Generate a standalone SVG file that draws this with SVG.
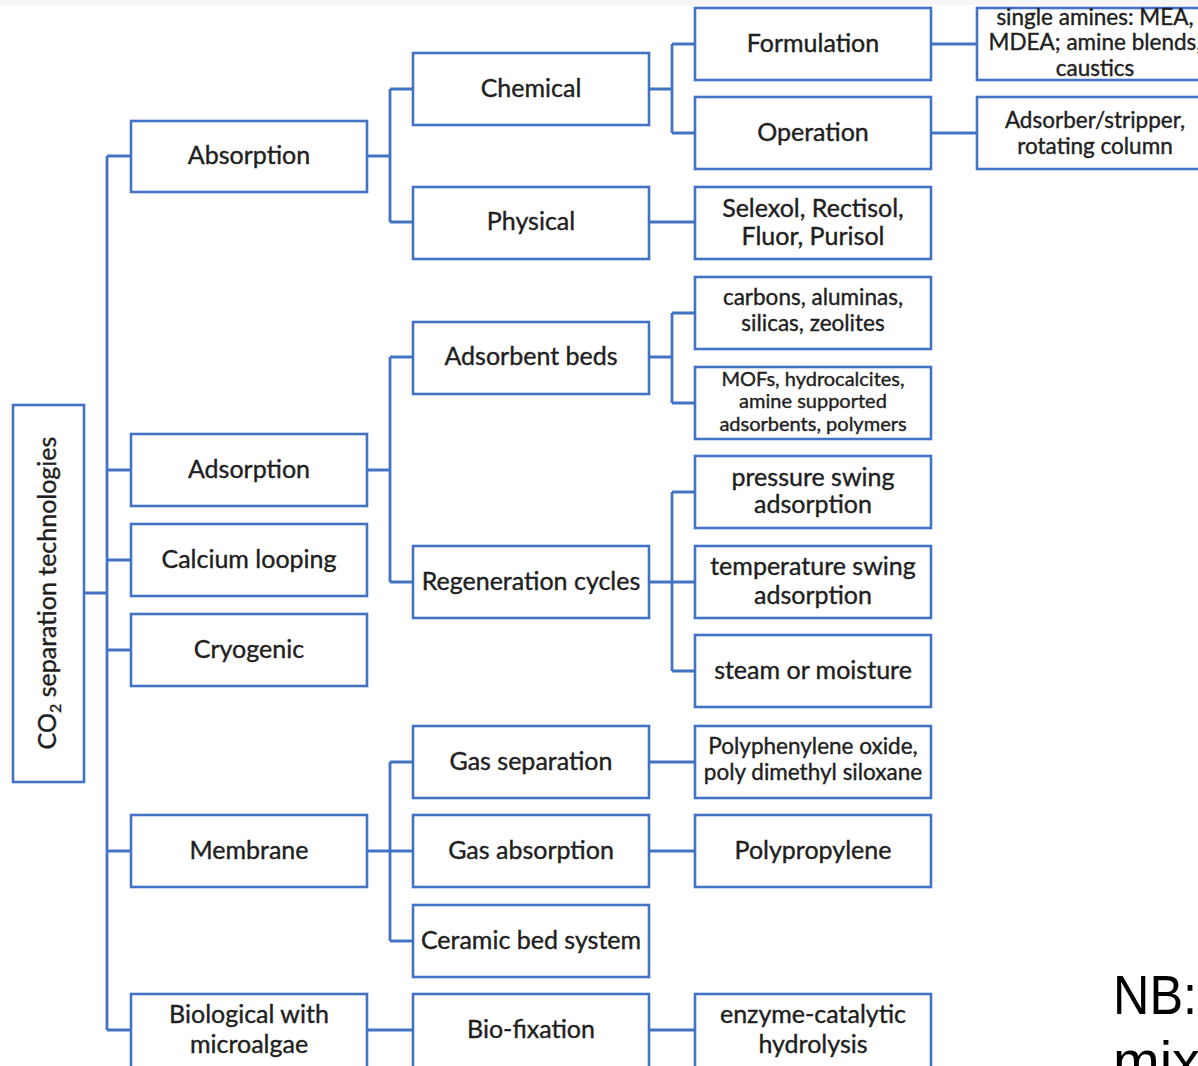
<svg xmlns="http://www.w3.org/2000/svg" width="1198" height="1066" viewBox="0 0 1198 1066">
<style>
.box{fill:#fff;stroke:#4472C4;stroke-width:2.6}
.ln{fill:none;stroke:#4472C4;stroke-width:2.8}
text{font-family:Lato,"Open Sans","Liberation Sans",sans-serif;fill:#1f1f1f;stroke:#1f1f1f;stroke-width:0.4;text-anchor:middle}
.t24{font-size:25px}
.t21{font-size:22.5px}
.t19{font-size:20px}
.nb{font-family:"Liberation Sans",Arial,sans-serif;fill:#000;stroke:none;text-anchor:start;font-size:56px}
</style>
<rect x="0" y="0" width="1198" height="1066" fill="#fff"/>
<rect x="0" y="0" width="1198" height="5" fill="#f6f6f6"/>
<g id="connectors">
<path class="ln" d="M85 593H107M107 156V1030M107 156H131M107 470H131M107 560H131M107 650H131M107 851H131M107 1030H131"/>
<path class="ln" d="M367 156H390M390 89V222M390 89H413M390 222H413"/>
<path class="ln" d="M367 470H390M390 357V582M390 357H413M390 582H413"/>
<path class="ln" d="M367 851H413M390 762V941M390 762H413M390 941H413"/>
<path class="ln" d="M367 1030H413"/>
<path class="ln" d="M649 89H672M672 44V133M672 44H695M672 133H695"/>
<path class="ln" d="M649 222H695"/>
<path class="ln" d="M649 357H672M672 313V403M672 313H695M672 403H695"/>
<path class="ln" d="M649 582H695M672 492V671M672 492H695M672 671H695"/>
<path class="ln" d="M649 762H695M649 851H695M649 1030H695"/>
<path class="ln" d="M931 44H977M931 133H977"/>
</g>
<g id="root"><rect class="box" x="13" y="405" width="71" height="377"/>
<text class="t24" transform="translate(56,593) rotate(-90)">CO<tspan font-size="16" dy="5">2</tspan><tspan dy="-5"> separation technologies</tspan></text></g>
<g id="absorption"><rect class="box" x="131" y="121" width="236" height="71"/><text class="t24" x="249" y="164">Absorption</text></g>
<g id="adsorption"><rect class="box" x="131" y="434" width="236" height="72"/><text class="t24" x="249" y="478">Adsorption</text></g>
<g id="calcium"><rect class="box" x="131" y="524" width="236" height="72"/><text class="t24" x="249" y="568">Calcium looping</text></g>
<g id="cryogenic"><rect class="box" x="131" y="614" width="236" height="72"/><text class="t24" x="249" y="658">Cryogenic</text></g>
<g id="membrane"><rect class="box" x="131" y="815" width="236" height="72"/><text class="t24" x="249" y="859">Membrane</text></g>
<g id="biological"><rect class="box" x="131" y="994" width="236" height="80"/><text class="t24" x="249" y="1023">Biological with</text><text class="t24" x="249" y="1053">microalgae</text></g>
<g id="chemical"><rect class="box" x="413" y="53" width="236" height="72"/><text class="t24" x="531" y="97">Chemical</text></g>
<g id="physical"><rect class="box" x="413" y="187" width="236" height="72"/><text class="t24" x="531" y="230">Physical</text></g>
<g id="adsorbent-beds"><rect class="box" x="413" y="322" width="236" height="72"/><text class="t24" x="531" y="365">Adsorbent beds</text></g>
<g id="regeneration"><rect class="box" x="413" y="546" width="236" height="72"/><text class="t24" x="531" y="590">Regeneration cycles</text></g>
<g id="gas-separation"><rect class="box" x="413" y="726" width="236" height="72"/><text class="t24" x="531" y="770">Gas separation</text></g>
<g id="gas-absorption"><rect class="box" x="413" y="815" width="236" height="72"/><text class="t24" x="531" y="859">Gas absorption</text></g>
<g id="ceramic"><rect class="box" x="413" y="905" width="236" height="72"/><text class="t24" x="531" y="949">Ceramic bed system</text></g>
<g id="bio-fixation"><rect class="box" x="413" y="994" width="236" height="80"/><text class="t24" x="531" y="1038">Bio-fixation</text></g>
<g id="formulation"><rect class="box" x="695" y="8" width="236" height="72"/><text class="t24" x="813" y="52">Formulation</text></g>
<g id="operation"><rect class="box" x="695" y="97" width="236" height="72"/><text class="t24" x="813" y="141">Operation</text></g>
<g id="selexol"><rect class="box" x="695" y="187" width="236" height="72"/><text class="t24" x="813" y="217">Selexol, Rectisol,</text><text class="t24" x="813" y="245">Fluor, Purisol</text></g>
<g id="carbons"><rect class="box" x="695" y="277" width="236" height="72"/><text class="t21" x="813" y="305">carbons, aluminas,</text><text class="t21" x="813" y="331">silicas, zeolites</text></g>
<g id="mofs"><rect class="box" x="695" y="367" width="236" height="72"/><text class="t19" x="813" y="386">MOFs, hydrocalcites,</text><text class="t19" x="813" y="408">amine supported</text><text class="t19" x="813" y="431">adsorbents, polymers</text></g>
<g id="psa"><rect class="box" x="695" y="456" width="236" height="72"/><text class="t24" x="813" y="486">pressure swing</text><text class="t24" x="813" y="513">adsorption</text></g>
<g id="tsa"><rect class="box" x="695" y="546" width="236" height="72"/><text class="t24" x="813" y="575">temperature swing</text><text class="t24" x="813" y="604">adsorption</text></g>
<g id="steam"><rect class="box" x="695" y="635" width="236" height="72"/><text class="t24" x="813" y="679">steam or moisture</text></g>
<g id="polyphenylene"><rect class="box" x="695" y="726" width="236" height="72"/><text class="t21" x="813" y="754">Polyphenylene oxide,</text><text class="t21" x="813" y="780">poly dimethyl siloxane</text></g>
<g id="polypropylene"><rect class="box" x="695" y="815" width="236" height="72"/><text class="t24" x="813" y="859">Polypropylene</text></g>
<g id="enzyme"><rect class="box" x="695" y="994" width="236" height="80"/><text class="t24" x="813" y="1023">enzyme-catalytic</text><text class="t24" x="813" y="1053">hydrolysis</text></g>
<g id="amines"><rect class="box" x="977" y="8" width="236" height="72"/><text class="t21" x="1095" y="25">single amines: MEA,</text><text class="t21" x="1095" y="50">MDEA; amine blends,</text><text class="t21" x="1095" y="76">caustics</text></g>
<g id="adsorber"><rect class="box" x="977" y="97" width="236" height="72"/><text class="t21" x="1095" y="128">Adsorber/stripper,</text><text class="t21" x="1095" y="154">rotating column</text></g>
<text class="nb" x="1113" y="1014" textLength="84" lengthAdjust="spacingAndGlyphs">NB:</text>
<text class="nb" x="1113" y="1080">mixt</text>
</svg>
